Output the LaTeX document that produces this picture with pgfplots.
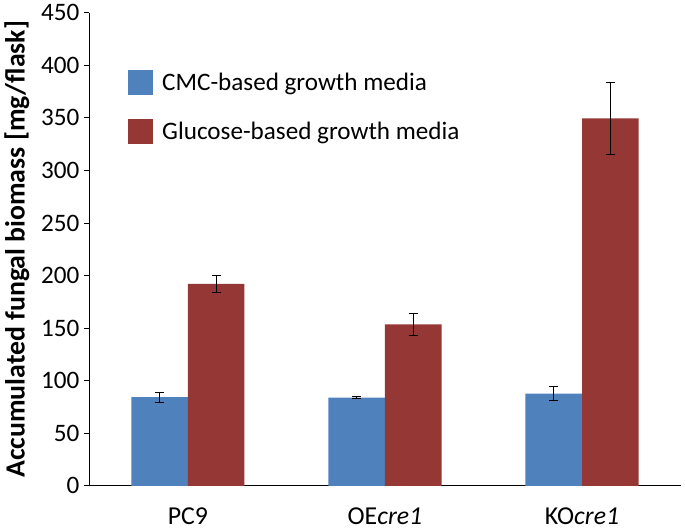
\documentclass[border=0pt]{standalone}
\usepackage{pgfplots}
\pgfplotsset{compat=1.18}
\usepackage{fontspec}
\setmainfont{Carlito}
\definecolor{cmcC}{HTML}{4F81BD}
\definecolor{gluC}{HTML}{953735}

\begin{document}
\begin{tikzpicture}
  \begin{axis}[
    scale only axis, width=447pt, height=357.75pt,
    ybar, bar width=0.287,
    xmin=-0.5, xmax=2.5, ymin=0, ymax=450,
    xtick={0,1,2}, xticklabels={PC9,{OE\textit{cre1}},{KO\textit{cre1}}},
    ytick={0,50,...,450},
    extra x ticks={-0.5,0.5,1.5,2.5}, extra x tick labels={},
    extra x tick style={major tick length=4pt, tick style={black}},
    axis x line*=bottom, axis y line*=left,
    axis line style={black, line width=0.6pt, -},
    x tick style={draw=none}, y tick style={black, line width=0.6pt},
    tick align=outside, major tick length=4pt,
    tick label style={font=\fontsize{19}{22}\selectfont},
    /pgf/number format/assume math mode=true,
    yticklabel style={xshift=0pt},
    xticklabel style={yshift=-9pt, font=\fontsize{19.5}{22}\selectfont},
    ylabel={\bfseries Accumulated fungal biomass [mg/flask]},
    ylabel style={font=\fontsize{21}{24}\selectfont, yshift=2pt},
    legend style={draw=none, fill=none, at={(0.058,0.885)}, anchor=north west,
      font=\fontsize{19}{22}\selectfont, row sep=18pt,
      nodes={inner xsep=7pt}},
    legend cell align=left,
    legend image code/.code={\fill[#1] (0pt,-9.5pt) rectangle (19pt,9.5pt);},
    error bars/error bar style={black, line width=0.7pt},
    error bars/error mark options={rotate=90, mark size=3.5pt, line width=0.7pt, black},
  ]
    \addplot[fill=cmcC, draw=none, bar shift=-0.1435,
      error bars/.cd, y dir=both, y explicit]
      coordinates {(0,84.5) +- (0,4.8) (1,84) +- (0,1) (2,87.8) +- (0,6.5)};
    \addplot[fill=gluC, draw=none, bar shift=0.1435,
      error bars/.cd, y dir=both, y explicit]
      coordinates {(0,192) +- (0,8.5) (1,153.6) +- (0,10.2) (2,349.5) +- (0,34)};
    \legend{CMC-based growth media, Glucose-based growth media}
  \end{axis}
\end{tikzpicture}
\end{document}
